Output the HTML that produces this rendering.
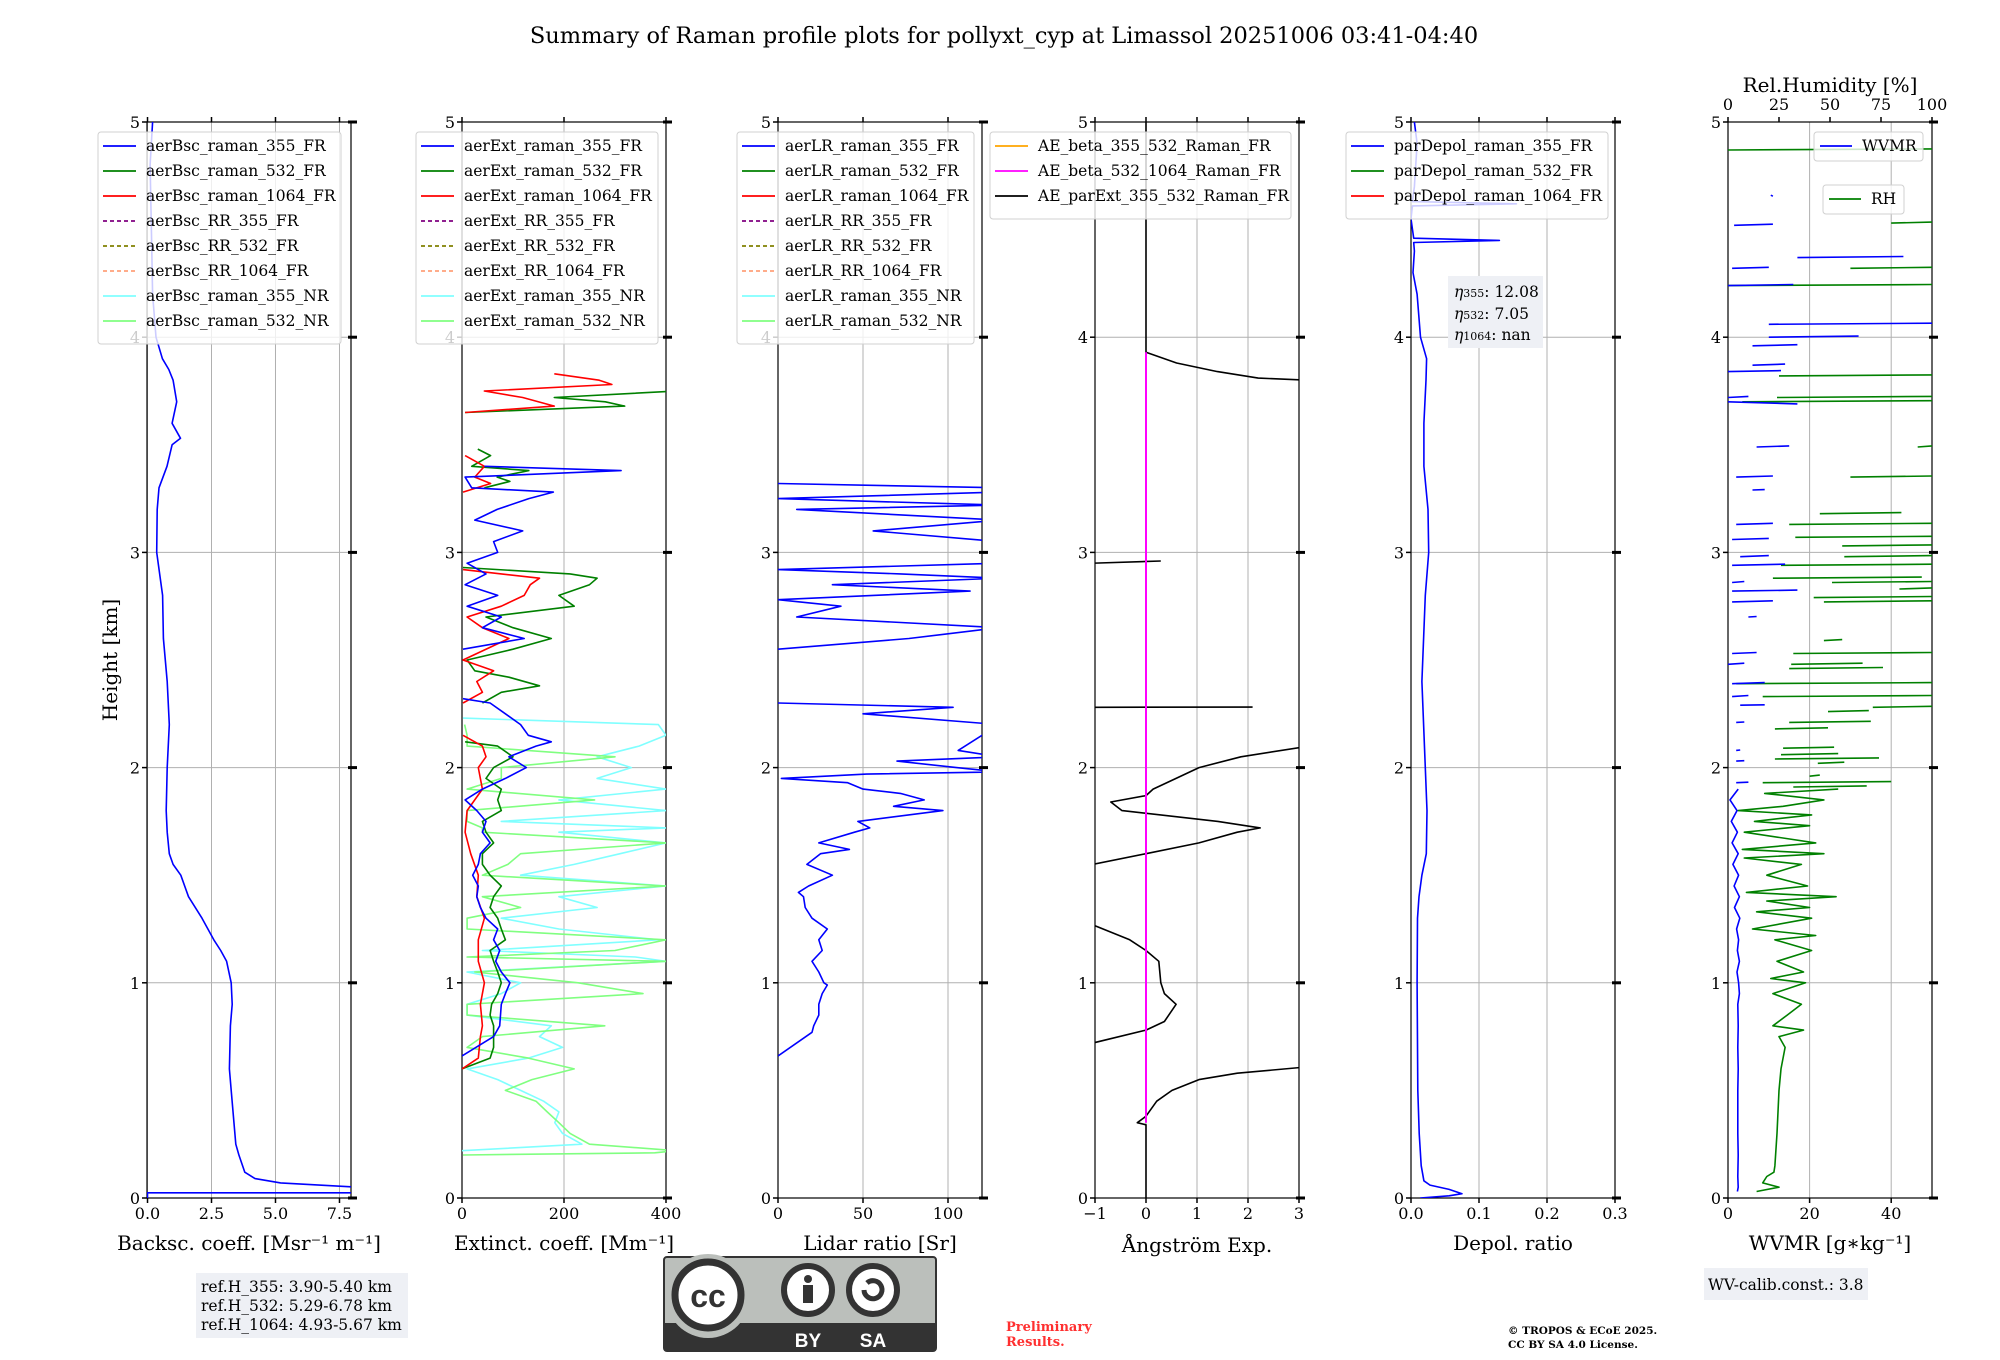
<!DOCTYPE html>
<html><head><meta charset="utf-8"><style>
html,body{margin:0;padding:0;background:#fff;}
svg{display:block;font-family:"DejaVu Serif","Liberation Serif",serif;}
</style></head><body>
<svg id="fig" width="2000" height="1360" viewBox="0 0 2000 1360" xmlns="http://www.w3.org/2000/svg">
<rect width="2000" height="1360" fill="#fff"/>
<text x="1004" y="43" font-size="22.5" text-anchor="middle">Summary of Raman profile plots for pollyxt_cyp at Limassol 20251006 03:41-04:40</text>
<text transform="translate(117,660) rotate(-90)" font-size="20" text-anchor="middle">Height [km]</text>
<g id="panels"></g>
<g id="legends"></g>
<g>
<rect x="1448" y="276" width="95" height="72" fill="#eef0f5"/>
<text x="1454" y="297" font-size="15.5" font-style="italic">η<tspan font-size="11" font-style="normal">355</tspan><tspan font-style="normal">: 12.08</tspan></text>
<text x="1454" y="319" font-size="15.5" font-style="italic">η<tspan font-size="11" font-style="normal">532</tspan><tspan font-style="normal">: 7.05</tspan></text>
<text x="1454" y="340" font-size="15.5" font-style="italic">η<tspan font-size="11" font-style="normal">1064</tspan><tspan font-style="normal">: nan</tspan></text>
</g>
<text x="1830" y="92" font-size="20" text-anchor="middle">Rel.Humidity [%]</text>
<g>
<rect x="196" y="1273" width="212" height="65" fill="#eef0f5"/>
<text x="201" y="1292" font-size="15.5">ref.H_355: 3.90-5.40 km</text>
<text x="201" y="1311" font-size="15.5">ref.H_532: 5.29-6.78 km</text>
<text x="201" y="1330" font-size="15.5">ref.H_1064: 4.93-5.67 km</text>
</g>
<g>
<rect x="1704" y="1268" width="164" height="32" fill="#eef0f5"/>
<text x="1708" y="1290" font-size="15.5">WV-calib.const.: 3.8</text>
</g>
<g>
<rect x="664" y="1257" width="272" height="94" rx="3" fill="#bbbfbb" stroke="#333" stroke-width="2"/>
<rect x="665" y="1323" width="270" height="27" fill="#333"/>
<circle cx="708" cy="1296" r="42" fill="#bbbfbb"/>
<circle cx="708" cy="1295" r="33" fill="#fff" stroke="#333" stroke-width="7"/>
<text x="708" y="1307" font-family="Liberation Sans,sans-serif" font-weight="bold" font-size="32" text-anchor="middle" fill="#333">cc</text>
<circle cx="808" cy="1290" r="24" fill="#fff" stroke="#333" stroke-width="6"/>
<circle cx="808" cy="1279" r="4" fill="#333"/><rect x="803" y="1285" width="10" height="18" fill="#333"/>
<circle cx="873" cy="1290" r="24" fill="#fff" stroke="#333" stroke-width="6"/>
<path d="M864 1290 a9 9 0 1 0 3 -7" fill="none" stroke="#333" stroke-width="5"/>
<text x="808" y="1347" font-family="Liberation Sans,sans-serif" font-weight="bold" font-size="19" text-anchor="middle" fill="#fff">BY</text>
<text x="873" y="1347" font-family="Liberation Sans,sans-serif" font-weight="bold" font-size="19" text-anchor="middle" fill="#fff">SA</text>
</g>
<text x="1006" y="1331" font-size="13" font-weight="bold" fill="#ff3030">Preliminary</text>
<text x="1006" y="1346" font-size="13" font-weight="bold" fill="#ff3030">Results.</text>
<text x="1508" y="1334" font-size="10.5" font-weight="bold">© TROPOS &amp; ECoE 2025.</text>
<text x="1508" y="1348" font-size="10.5" font-weight="bold">CC BY SA 4.0 License.</text>
</svg>
<script>
// ---- data (height km / values) ----
const bscH=[0.0,0.024,0.024,0.05,0.07,0.09,0.12,0.2,0.25,0.5,0.6,0.8,0.9,1.0,1.1,1.15,1.2,1.3,1.4,1.5,1.55,1.6,1.7,1.8,2.0,2.2,2.4,2.6,2.8,3.0,3.2,3.3,3.4,3.5,3.53,3.6,3.7,3.8,3.85,3.9,4.0,4.2,4.5,4.8,5.0];
const bsc355=[0.0,0.0,9,8.2,5.2,4.2,3.8,3.57,3.45,3.27,3.2,3.24,3.31,3.27,3.09,2.86,2.59,2.13,1.6,1.3,1.0,0.85,0.77,0.73,0.77,0.85,0.77,0.62,0.59,0.36,0.38,0.45,0.76,0.96,1.29,0.96,1.14,1.0,0.83,0.58,0.33,0.2,0.15,0.1,0.2];

const extBH=[0.66,0.75,0.8,0.9,0.95,1.0,1.05,1.1,1.15,1.2,1.25,1.3,1.35,1.4,1.45,1.5,1.55,1.6,1.65,1.7,1.75,1.8,1.85,1.9,1.95,2.0,2.05,2.1,2.12,2.15,2.2,2.25,2.3,2.32,2.4,2.55,2.6,2.65,2.7,2.75,2.8,2.85,2.9,2.95,3.0,3.05,3.1,3.15,3.2,3.25,3.28,3.3,3.35,3.38,3.4,3.45];
const ext355=[0,62,74,77,85,94,77,66,74,62,70,47,36,29,32,21,32,36,55,40,47,29,6,40,85,126,92,145,175,130,115,85,55,2,null,2,122,40,77,10,70,6,47,10,70,62,119,25,69,131,179,19,6,312,44,null];
const extRH=[0.6,0.65,0.75,0.8,0.9,1.0,1.1,1.2,1.3,1.4,1.5,1.6,1.7,1.8,1.9,2.0,2.05,2.1,2.15,2.2,2.3,2.35,2.4,2.45,2.5,2.6,2.65,2.7,2.75,2.8,2.85,2.88,2.9,2.92,3.0,3.28,3.32,3.35,3.4,3.45,3.55,3.65,3.68,3.72,3.75,3.78,3.8,3.83];
const ext1064=[0,32,36,40,36,44,32,32,44,29,32,17,6,10,40,32,47,40,2,null,2,40,29,62,2,92,40,10,77,122,134,152,77,2,null,2,56,25,44,6,null,6,181,119,44,294,269,181];
const extGH=[0.6,0.65,0.7,0.75,0.8,0.85,0.9,0.95,1.0,1.05,1.1,1.15,1.2,1.25,1.3,1.35,1.4,1.45,1.5,1.55,1.6,1.65,1.7,1.75,1.8,1.85,1.9,1.95,2.0,2.05,2.1,2.12,2.2,2.3,2.35,2.38,2.42,2.45,2.5,2.55,2.6,2.65,2.7,2.75,2.8,2.85,2.88,2.9,2.93,3.1,3.3,3.33,3.35,3.38,3.4,3.45,3.48,3.55,3.65,3.68,3.7,3.72,3.75,3.83];
const ext532=[0,55,62,62,62,55,58,70,77,70,62,55,85,77,70,55,62,77,55,40,40,62,47,40,77,70,77,47,62,100,70,6,null,40,77,152,92,25,10,100,175,100,47,220,190,250,265,212,2,null,44,94,69,131,19,56,31,null,6,319,281,181,420,420];
const nrH=[0.2,0.21,0.22,0.25,0.3,0.35,0.4,0.45,0.5,0.55,0.6,0.65,0.7,0.75,0.8,0.85,0.9,0.95,1.0,1.05,1.1,1.12,1.15,1.2,1.25,1.3,1.35,1.4,1.45,1.5,1.55,1.6,1.65,1.7,1.72,1.75,1.8,1.85,1.9,1.95,2.0,2.05,2.1,2.15,2.2,2.23];
const ext355NR=[null,null,0,235,197,182,190,160,115,70,10,130,197,152,175,10,10,77,115,10,400,340,40,385,190,77,265,190,400,115,220,310,400,190,400,77,400,190,400,265,332,265,347,400,385,2];
const ext532NR=[2,378,420,250,212,190,167,145,85,137,220,130,10,40,280,10,10,355,228,25,400,10,300,400,10,10,115,40,400,40,90,115,400,40,40,10,10,260,10,77,77,300,10,10,5,null];

const lrH=[0.66,0.77,0.8,0.85,0.9,0.95,0.99,1.0,1.05,1.1,1.15,1.2,1.25,1.3,1.35,1.4,1.42,1.45,1.5,1.55,1.6,1.62,1.65,1.7,1.72,1.75,1.8,1.82,1.85,1.88,1.9,1.93,1.95,1.97,1.98,2.0,2.03,2.05,2.08,2.2,2.25,2.28,2.3,2.4,2.55,2.6,2.65,2.7,2.75,2.78,2.82,2.85,2.88,2.9,2.92,2.95,3.0,3.05,3.1,3.15,3.2,3.22,3.25,3.28,3.3,3.32];
const lr355=[0,20,21,24,24,26,29,27,24,20,26,24,29,20,16,15,12,18,32,17,25,42,24,45,54,47,97,68,86,72,50,41,2,52,130,105,70,130,106,130,50,103,0,null,0,77,130,11,37,0,113,32,130,72,0,130,130,130,56,130,11,130,0,130,130,0];

const aeH=[0,0.34,0.35,0.38,0.45,0.5,0.55,0.58,0.61,0.615,0.72,0.78,0.82,0.9,0.95,1.0,1.1,1.15,1.2,1.27,1.3,1.55,1.6,1.65,1.7,1.72,1.75,1.8,1.84,1.87,1.9,1.95,2.0,2.05,2.1,2.15,2.28,2.281,2.3,2.95,2.96,3.0,3.8,3.81,3.84,3.88,3.93,5.0];
const aeParExt=[0,0,-0.17,0,0.21,0.51,1.04,1.79,3.2,null,-1.05,0,0.36,0.59,0.36,0.29,0.25,0,-0.32,-1.05,null,-1.05,0,1.04,1.79,2.24,1.41,-0.47,-0.69,0,0.14,0.59,1.04,1.86,3.2,null,-1.05,2.09,null,-1.05,0.29,null,3.2,2.2,1.4,0.6,0,0];
const aeBeta532H=[0.35,3.93];
const aeBeta532=[0,0];

const dpH=[0.0,0.01,0.02,0.04,0.06,0.08,0.15,0.3,0.5,1.0,1.3,1.4,1.5,1.6,1.8,2.0,2.4,2.8,3.0,3.2,3.4,3.6,3.8,3.9,4.0,4.2,4.3,4.4,4.44,4.45,4.46,4.55,4.61,4.62,4.63,4.7,4.9,5.0];
const dp355=[0.0135,0.056,0.075,0.056,0.028,0.019,0.015,0.012,0.010,0.009,0.0096,0.0118,0.016,0.0225,0.0236,0.021,0.016,0.021,0.026,0.025,0.019,0.019,0.022,0.023,0.014,0.009,0.003,0.005,0.004,0.13,0.004,0.0,0.002,0.155,0.002,0.005,0.009,0.005];

// WVMR continuous lower part
const wvH=[0.03,0.05,0.1,0.2,0.3,0.4,0.5,0.6,0.7,0.8,0.9,0.95,1.0,1.05,1.1,1.15,1.2,1.25,1.3,1.35,1.4,1.45,1.5,1.55,1.6,1.65,1.7,1.75,1.8,1.85,1.9];
const wv=[2.3,2.5,2.4,2.5,2.4,2.4,2.4,2.5,2.4,2.5,2.4,2.8,2.6,2.2,2.8,2.3,2.6,2.1,2.9,1.6,2.8,1.5,2.6,1.2,2.5,1.0,2.3,0.8,2.2,0.5,2.5];
// WVMR upper scattered segments (null = gap)
const wvSegH=[1.93,1.932,1.93, 2.03,2.032,2.03, 2.08,2.082,2.08, 2.21,2.212,2.21, 2.29,2.292,2.29, 2.33,2.335,2.33, 2.39,2.395,2.39, 2.48,2.485,2.48, 2.53,2.535,2.53, 2.7,2.702,2.7, 2.77,2.775,2.77, 2.82,2.825,2.82, 2.86,2.865,2.86, 2.94,2.945,2.94, 2.98,2.985,2.98, 3.06,3.065,3.06, 3.13,3.135,3.13, 3.29,3.292,3.29, 3.35,3.355,3.35, 3.49,3.495,3.49, 3.70,3.69,3.70, 3.72,3.725,3.72, 3.84,3.845,3.84, 3.87,3.875,3.87, 3.96,3.965,3.96, 4.0,4.005,4.0, 4.06,4.065,4.06, 4.24,4.245,4.24, 4.32,4.325,4.32, 4.37,4.375,4.37, 4.52,4.525,4.52, 4.66,4.655,4.66];
const wvSeg=[2,5,null, 2,4,null, 2,3,null, 2,4,null, 3,9,null, 1,5,null, 1,9,null, 0,4,null, 1,7,null, 5,7,null, 1,11,null, 1,17,null, 1,4,null, 1,14,null, 3,10,null, 1,10,null, 2,11,null, 6,9,null, 2,11,null, 7,15,null, 0,17,null, 0,5,null, 0,13,null, 6,14,null, 6,17,null, 10,32,null, 10,50,null, 0,16,null, 1,10,null, 17,43,null, 1.5,11,null, 10.5,11,null];
// RH continuous lower part
const rhH=[0.03,0.05,0.07,0.1,0.12,0.15,0.3,0.5,0.6,0.7,0.75,0.78,0.8,0.85,0.9,0.95,1.0,1.02,1.05,1.1,1.15,1.2,1.22,1.25,1.3,1.33,1.35,1.38,1.4,1.42,1.45,1.5,1.55,1.58,1.6,1.62,1.65,1.7,1.73,1.75,1.78,1.8,1.82,1.85,1.88,1.9];
const rh=[14,25,17,19,22.5,23,24,25,26,28,25,37,22,29,36,22,38,21,37,24,41,23,43,12,41,14,40,19,53,9,39,19,36,8,47,7,43,8,40,13,41,5,27,47,18,54];
// RH upper segments
const rhSegH=[1.91,1.915,1.91, 1.93,1.935,1.93, 1.96,1.965,1.96, 2.02,2.025,2.02, 2.04,2.045,2.04, 2.06,2.065,2.06, 2.09,2.095,2.09, 2.18,2.185,2.18, 2.21,2.215,2.21, 2.26,2.265,2.26, 2.28,2.285,2.28, 2.33,2.335,2.33, 2.39,2.395,2.39, 2.46,2.465,2.46, 2.48,2.485,2.48, 2.53,2.535,2.53, 2.59,2.595,2.59, 2.77,2.775,2.77, 2.79,2.795,2.79, 2.83,2.835,2.83, 2.86,2.865,2.86, 2.88,2.885,2.88, 2.94,2.945,2.94, 2.98,2.985,2.98, 3.03,3.035,3.03, 3.07,3.075,3.07, 3.13,3.135,3.13, 3.18,3.185,3.18, 3.35,3.355,3.35, 3.49,3.495,3.49, 3.70,3.705,3.70, 3.72,3.725,3.72, 3.82,3.825,3.82, 4.24,4.245,4.24, 4.32,4.325,4.32, 4.53,4.535,4.53, 4.87,4.875,4.87];
const rhSeg=[32,68,null, 17,80,null, 40,45,null, 44,57,null, 23,74,null, 26,54,null, 27,52,null, 23,49,null, 30,70,null, 49,69,null, 71,100,null, 17,100,null, 4,100,null, 30,76,null, 31,66,null, 32,100,null, 47,56,null, 47,100,null, 42,100,null, 84,100,null, 51,100,null, 22,95,null, 26,100,null, 57,100,null, 56,100,null, 33,100,null, 30,100,null, 45,85,null, 60,100,null, 93,100,null, 7,100,null, 24,100,null, 25,100,null, 0,100,null, 60,100,null, 80,100,null, 0,100,null];

// ---- layout ----
const Y0=1198, KM=215.2, TOP=Y0-5*KM, W=204;
const yS=h=>Y0-h*KM;
const NS='http://www.w3.org/2000/svg';
const svg=document.getElementById('fig');
const gP=document.getElementById('panels');
const gL=document.getElementById('legends');
function el(tag,attrs,parent){const e=document.createElementNS(NS,tag);for(const k in attrs)e.setAttribute(k,attrs[k]);(parent||gP).appendChild(e);return e;}

const panels=[
 {L:147,min:-0.02,max:7.95,ticks:[0,2.5,5,7.5],fmt:v=>v.toFixed(1),label:'Backsc. coeff. [Msr⁻¹ m⁻¹]',name:'backscatter'},
 {L:462,min:0,max:400,ticks:[0,200,400],fmt:v=>String(v),label:'Extinct. coeff. [Mm⁻¹]',name:'extinction'},
 {L:778,min:0,max:120,ticks:[0,50,100],fmt:v=>String(v),label:'Lidar ratio [Sr]',name:'lidar-ratio'},
 {L:1095,min:-1,max:3,ticks:[-1,0,1,2,3],fmt:v=>v<0?'−'+(-v):String(v),label:'Ångström Exp.',name:'angstrom'},
 {L:1411,min:0,max:0.3,ticks:[0,0.1,0.2,0.3],fmt:v=>v.toFixed(1),label:'Depol. ratio',name:'depol'},
 {L:1728,min:0,max:50,ticks:[0,20,40],fmt:v=>String(v),label:'WVMR [g∗kg⁻¹]',name:'wvmr'}
];
const defs=el('defs',{},svg);
panels.forEach((p,i)=>{
  p.x=v=>p.L+(v-p.min)/(p.max-p.min)*W;
  const cp=el('clipPath',{id:'clip'+i},defs);
  el('rect',{x:p.L,y:TOP,width:W,height:5*KM},cp);
  const g=el('g',{});
  
  
  p.ticks.forEach(t=>{const X=p.x(t);const gl=el('line',{x1:X,x2:X,y1:TOP,y2:Y0,stroke:'#b0b0b0','stroke-width':1},g);
    
    const tk=el('line',{x1:X,x2:X,y1:Y0,y2:Y0+5,stroke:'#000','stroke-width':1.5},g);
    
    if(i<5){const tt=el('line',{x1:X,x2:X,y1:TOP,y2:TOP-5,stroke:'#000','stroke-width':1.5},g);}
    const tl=el('text',{x:X,y:Y0+21,'font-size':16,'text-anchor':'middle'},g);tl.textContent=p.fmt(t);
    
  });
  for(let h=0;h<=5;h++){const Y=yS(h);
    if(h>0&&h<5){const gl=el('line',{x1:p.L,x2:p.L+W,y1:Y,y2:Y,stroke:'#b0b0b0','stroke-width':1},g);}
    const t1=el('line',{x1:p.L-5,x2:p.L,y1:Y,y2:Y,stroke:'#000','stroke-width':1.5},g);
    const t2=el('line',{x1:p.L+W-3,x2:p.L+W+6,y1:Y,y2:Y,stroke:'#000','stroke-width':3},g);
    const tl=el('text',{x:p.L-7,y:Y+6,'font-size':16,'text-anchor':'end'},g);tl.textContent=String(h);
    
  }
  const fr=el('rect',{x:p.L,y:TOP,width:W,height:5*KM,fill:'none',stroke:'#000','stroke-width':1.2},g);
  
  const xl=el('text',{x:p.L+W/2,y:i==3?1252:1250,'font-size':20,'text-anchor':'middle'},g);xl.textContent=p.label;
  
  p.g=g;
});
function series(pi,H,V,color,name,xf,width){
  const p=panels[pi];const X=xf||p.x;let d='',pen=false;
  for(let k=0;k<H.length;k++){const v=V[k];if(v===null||v===undefined){pen=false;continue;}
    d+=(pen?'L':'M')+X(v).toFixed(1)+' '+yS(H[k]).toFixed(1);pen=true;}
  const path=el('path',{d:d,fill:'none',stroke:color,'stroke-width':width||1.6,'stroke-linejoin':'round','clip-path':'url(#clip'+pi+')'},p.g);
  
  
}
series(0,bscH,bsc355,'#0000ff','bsc-355-line');
series(1,nrH,ext355NR,'#80ffff','ext-355-nr-line');
series(1,nrH,ext532NR,'#80ff80','ext-532-nr-line');
series(1,extGH,ext532,'#008000','ext-532-line');
series(1,extRH,ext1064,'#ff0000','ext-1064-line');
series(1,extBH,ext355,'#0000ff','ext-355-line');
series(2,lrH,lr355,'#0000ff','lr-355-line');
series(3,aeH,aeParExt,'#000000','ae-parext-line');
series(3,aeBeta532H,aeBeta532,'#ff00ff','ae-beta-532-1064-line',null,2);
series(4,dpH,dp355,'#0000ff','depol-355-line');
const rhX=v=>1728+v/100*W;
series(5,rhH,rh,'#008000','rh-line',rhX);
series(5,rhSegH,rhSeg,'#008000','rh-segments',rhX);
series(5,wvH,wv,'#0000ff','wvmr-line');
series(5,wvSegH,wvSeg,'#0000ff','wvmr-segments');
[0,25,50,75,100].forEach(t=>{const X=rhX(t);
  const tk=el('line',{x1:X,x2:X,y1:TOP,y2:TOP-5,stroke:'#000','stroke-width':1.5});
  
  const tl=el('text',{x:X,y:TOP-12,'font-size':16,'text-anchor':'middle'});tl.textContent=String(t);
  });

// ---- legends ----
function legend(x,y,w,items,name){
  const g=el('g',{},gL);
  
  
  el('rect',{x:x,y:y,width:w,height:items.length*25+12,rx:3,fill:'#fff','fill-opacity':0.8,stroke:'#d0d0d0'},g);
  items.forEach((it,k)=>{const Y=y+14+k*25;
    const ln=el('line',{x1:x+5,x2:x+38,y1:Y,y2:Y,stroke:it[1],'stroke-width':1.8,'stroke-dasharray':it[2]?'4,3':'none'},g);
    
    const t=el('text',{x:x+48,y:Y+5,'font-size':15.5},g);t.textContent=it[0];
    });
}
const mk=pre=>[[pre+'raman_355_FR','#0000ff'],[pre+'raman_532_FR','#008000'],[pre+'raman_1064_FR','#ff0000'],[pre+'RR_355_FR','#800080',1],[pre+'RR_532_FR','#808000',1],[pre+'RR_1064_FR','#ffa07a',1],[pre+'raman_355_NR','#80ffff'],[pre+'raman_532_NR','#80ff80']];
legend(98,132,243,mk('aerBsc_'),'bsc-legend');
legend(416,132,242,mk('aerExt_'),'ext-legend');
legend(737,132,237,mk('aerLR_'),'lr-legend');
legend(990,132,301,[['AE_beta_355_532_Raman_FR','#ffa500'],['AE_beta_532_1064_Raman_FR','#ff00ff'],['AE_parExt_355_532_Raman_FR','#000000']],'ae-legend');
legend(1346,132,262,[['parDepol_raman_355_FR','#0000ff'],['parDepol_raman_532_FR','#008000'],['parDepol_raman_1064_FR','#ff0000']],'depol-legend');

function box(x,y,w,col,label,name){
  const g=el('g',{},gL);
  
  
  el('rect',{x:x,y:y,width:w,height:29,rx:3,fill:'#fff','fill-opacity':0.8,stroke:'#d0d0d0'},g);
  el('line',{x1:x+6,x2:x+38,y1:y+14,y2:y+14,stroke:col,'stroke-width':1.8},g);
  const t=el('text',{x:x+48,y:y+19,'font-size':15.5},g);t.textContent=label;
}
box(1814,132,109,'#0000ff','WVMR','wvmr-legend');
box(1823,185,81,'#008000','RH','rh-legend');
</script>
</body></html>
